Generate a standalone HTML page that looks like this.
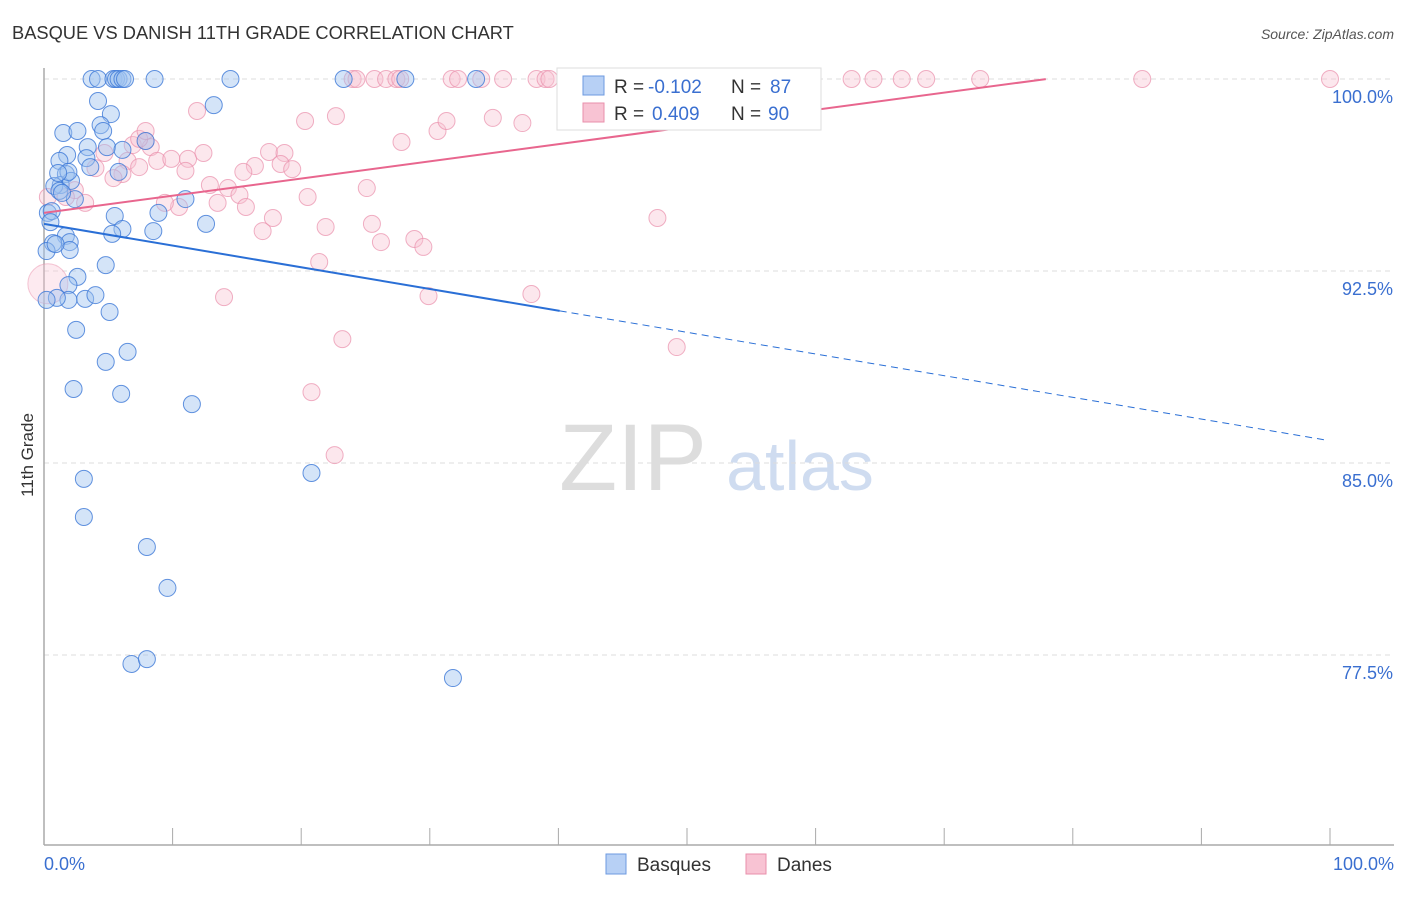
<!DOCTYPE html>
<html><head><meta charset="utf-8"><style>
body{margin:0;background:#fff;font-family:"Liberation Sans",sans-serif}
svg text{font-family:"Liberation Sans",sans-serif}
</style></head><body>
<svg id="c" width="1406" height="892" viewBox="0 0 1406 892">
<text x="12" y="39" font-size="18.3" fill="#333">BASQUE VS DANISH 11TH GRADE CORRELATION CHART</text>
<text x="1394" y="39" font-size="14" fill="#555" font-style="italic" text-anchor="end">Source: ZipAtlas.com</text>
<text x="33" y="455" font-size="17" fill="#333" text-anchor="middle" transform="rotate(-90 33 455)">11th Grade</text>
<g><text x="633" y="490" font-size="95" fill="#ddd" font-family="Liberation Serif" text-anchor="middle">ZIP</text><text x="800" y="490" font-size="70" fill="#cfdcf0" text-anchor="middle">atlas</text></g>
<g id="grid"></g><g id="axes"></g><g id="pts"></g><g id="lines"></g>
<g>
<rect x="557" y="68" width="264" height="62" fill="#fff" stroke="#ddd"/>
<rect x="583" y="76" width="21" height="19" fill="#b7d0f5" stroke="#6c9ae0"/>
<rect x="583" y="103" width="21" height="19" fill="#f8c3d3" stroke="#e98fab"/>
<text x="614" y="93" font-size="19" fill="#333">R = </text><text x="648" y="93" font-size="19" fill="#3a6fd0">-0.102</text>
<text x="731" y="93" font-size="19" fill="#333">N = </text><text x="770" y="93" font-size="19" fill="#3a6fd0">87</text>
<text x="614" y="120" font-size="19" fill="#333">R = </text><text x="652" y="120" font-size="19" fill="#3a6fd0">0.409</text>
<text x="731" y="120" font-size="19" fill="#333">N = </text><text x="768" y="120" font-size="19" fill="#3a6fd0">90</text>
</g>
<g>
<rect x="606" y="854" width="20" height="20" fill="#b7d0f5" stroke="#6c9ae0"/>
<text x="637" y="871" font-size="19" fill="#333">Basques</text>
<rect x="746" y="854" width="20" height="20" fill="#f8c3d3" stroke="#e98fab"/>
<text x="777" y="871" font-size="19" fill="#333">Danes</text>
</g>
</svg>
<script>
const yTicks=[100,92.5,85,77.5];
const yTickLabels=["100.0%","92.5%","85.0%","77.5%"];
const xTickLabels=["0.0%","100.0%"];
const blueX=[3.7,4.2,5.4,5.6,5.8,6.1,6.3,8.6,14.5,23.3,28.1,33.6,4.2,13.2,5.2,1.5,2.6,4.4,4.6,7.9,3.4,1.8,4.9,6.1,1.2,3.3,3.6,5.8,1.7,1.3,2.1,0.8,1.2,2.4,0.3,0.6,0.5,5.5,8.9,11.0,12.6,6.1,5.3,8.5,1.7,2.0,0.7,0.2,2.0,2.6,4.8,1.9,3.2,4.0,1.9,1.0,0.2,5.1,2.5,6.5,4.8,2.3,6.0,11.5,3.1,20.8,3.1,8.0,9.6,6.8,8.0,31.8,1.9,1.1,1.4,0.9];
const blueY=[100,100,100,100,100,100,100,100,100,100,100,100,99.14,98.98,98.63,97.89,97.97,98.2,97.97,97.58,97.34,97.03,97.34,97.23,96.8,96.91,96.56,96.37,96.29,95.86,96.02,95.82,95.63,95.31,94.77,94.84,94.41,94.65,94.77,95.31,94.34,94.14,93.95,94.06,93.87,93.63,93.59,93.28,93.32,92.27,92.73,91.95,91.41,91.56,91.37,91.45,91.37,90.9,90.2,89.34,88.95,87.89,87.7,87.3,84.38,84.61,82.89,81.72,80.12,77.15,77.34,76.6,96.37,96.33,95.55,93.55];
const pinkX=[24.0,24.3,25.7,26.6,27.4,27.7,31.7,32.2,34.0,35.7,38.3,39.0,39.3,41.7,44.6,46.2,48.2,52.4,58.2,62.8,64.5,66.7,68.6,72.8,85.4,100.0,11.9,22.7,20.3,27.8,30.6,31.3,34.9,37.2,41.3,7.9,8.3,6.9,4.7,6.5,6.1,8.8,9.9,11.2,12.4,11.0,7.4,5.4,4.0,2.4,3.2,1.7,0.3,17.5,18.7,18.4,19.3,16.4,15.5,12.9,14.3,15.2,13.5,15.7,20.5,25.1,10.5,9.4,17.0,17.8,21.9,25.5,26.2,28.8,29.5,21.4,14.0,29.9,37.9,47.7,49.2,23.2,20.8,22.6,7.4,7.9];
const pinkY=[100,100,100,100,100,100,100,100,100,100,100,100,100,100,100,100,100,100,100,100,100,100,100,100,100,100,98.75,98.55,98.36,97.54,97.97,98.36,98.48,98.28,98.48,97.58,97.34,97.42,97.11,96.8,96.29,96.8,96.88,96.88,97.11,96.41,96.56,96.13,96.52,95.66,95.16,95.39,95.39,97.15,97.11,96.68,96.48,96.6,96.37,95.86,95.74,95.47,95.16,95.0,95.39,95.74,95.0,95.16,94.06,94.57,94.22,94.34,93.63,93.75,93.44,92.85,91.48,91.52,91.6,94.57,89.53,89.84,87.77,85.31,97.66,97.97];
const blueFit=[94.34,-0.0847,40.1,99.6];
const pinkFit=[94.77,0.0671,77.9];
const NS="http://www.w3.org/2000/svg";
const X=v=>44+v*12.86, Y=v=>79+(100-v)*25.6;
function mk(t,a,p){const e=document.createElementNS(NS,t);for(const k in a)e.setAttribute(k,a[k]);document.getElementById(p).appendChild(e);return e;}
yTicks.forEach((t,i)=>{
 let l=mk('line',{x1:44,x2:1394,y1:Y(t),y2:Y(t),stroke:'#ddd','stroke-dasharray':'5,4'},'grid');
 
 
 let tx=mk('text',{x:1393,y:Y(t)+24,'font-size':18,fill:'#3a6fd0','text-anchor':'end'},'axes');tx.textContent=yTickLabels[i];
 
 
});
let ax=mk('line',{x1:44,x2:44,y1:68,y2:845,stroke:'#aaa','stroke-width':1.5},'axes');


let bx=mk('line',{x1:44,x2:1394,y1:845,y2:845,stroke:'#aaa','stroke-width':1.5},'axes');


for(let i=0;i<=10;i++){let t=mk('line',{x1:X(i*10),x2:X(i*10),y1:828,y2:845,stroke:'#aaa'},'axes');
 
 }
[[0,'start',44],[100,'end',1394]].forEach((d,i)=>{let t=mk('text',{x:d[2],y:870,'font-size':18,fill:'#3a6fd0','text-anchor':d[1]},'axes');t.textContent=xTickLabels[i];
 
 });
mk('circle',{cx:X(0.3),cy:Y(92),r:20,fill:'rgba(248,195,211,0.35)',stroke:'rgba(233,143,171,0.5)'},'pts');
pinkX.forEach((v,i)=>{let c=mk('circle',{cx:X(v),cy:Y(pinkY[i]),r:8.5,fill:'rgba(248,195,211,0.4)',stroke:'rgba(233,143,171,0.7)'},'pts');
 
 });
blueX.forEach((v,i)=>{let c=mk('circle',{cx:X(v),cy:Y(blueY[i]),r:8.5,fill:'rgba(160,195,240,0.45)',stroke:'rgba(60,120,215,0.8)'},'pts');
 
 });
const bf=x=>blueFit[0]+blueFit[1]*x, pf=x=>pinkFit[0]+pinkFit[1]*x;
let l1=mk('line',{x1:X(0),y1:Y(bf(0)),x2:X(blueFit[2]),y2:Y(bf(blueFit[2])),stroke:'#2a6fd6','stroke-width':2},'lines');


let l2=mk('line',{x1:X(blueFit[2]),y1:Y(bf(blueFit[2])),x2:X(blueFit[3]),y2:Y(bf(blueFit[3])),stroke:'#2a6fd6','stroke-width':1,'stroke-dasharray':'7,5'},'lines');


let l3=mk('line',{x1:X(0),y1:Y(pf(0)),x2:X(pinkFit[2]),y2:Y(pf(pinkFit[2])),stroke:'#e8668e','stroke-width':2},'lines');


</script>
</body></html>
